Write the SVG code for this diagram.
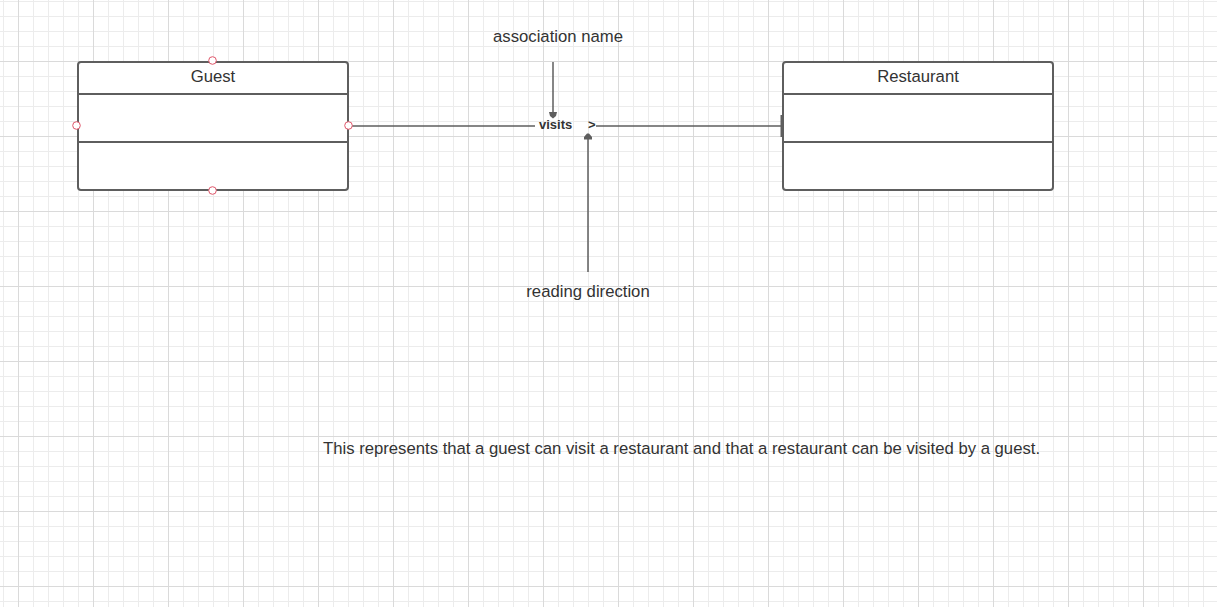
<svg xmlns="http://www.w3.org/2000/svg" width="1217" height="607" viewBox="0 0 1217 607">
  <style>
    .box { fill: #ffffff; stroke: #5e5e5e; stroke-width: 2; }
    .div { stroke: #5e5e5e; stroke-width: 2; fill: none; }
    .conn { stroke: #5e5e5e; stroke-width: 1.5; fill: none; }
    .head { fill: #5e5e5e; stroke: none; }
    .pt { fill: #ffffff; stroke: #e0566a; stroke-width: 1; }
    .t { font-family: "Liberation Sans", Arial, sans-serif; fill: #333333; font-size: 16.7px; }
    .lbl { font-family: "Liberation Sans", Arial, sans-serif; fill: #333333; font-size: 13px; font-weight: bold; }
  </style>
  <defs>
    <pattern id="minor" patternUnits="userSpaceOnUse" x="3" y="1" width="15" height="15">
      <path d="M0.5 0V15M0 0.5H15" stroke="#ececec" stroke-width="1" fill="none"/>
    </pattern>
    <pattern id="major" patternUnits="userSpaceOnUse" x="18" y="61" width="75" height="75">
      <path d="M0.5 0V75M0 0.5H75" stroke="#dadada" stroke-width="1" fill="none"/>
    </pattern>
  </defs>
  <rect width="1217" height="607" fill="#ffffff"/>
  <rect width="1217" height="607" fill="url(#minor)"/>
  <rect width="1217" height="607" fill="url(#major)"/>

  <g id="connectors">
    <line class="conn" x1="352" y1="126" x2="535" y2="126"/>
    <line class="conn" x1="596" y1="126" x2="781" y2="126"/>
    <rect class="head" x="780.5" y="115" width="2" height="22"/>
    <text class="lbl" x="539" y="129">visits</text>
    <text class="lbl" x="588" y="129">&gt;</text>
    <line class="conn" x1="553" y1="62" x2="553" y2="113"/>
    <polygon class="head" points="549,112 557,112 556,116 553,118.5 550,116"/>
    <line class="conn" x1="588" y1="272" x2="588" y2="138"/>
    <polygon class="head" points="587,133.5 589,133.5 592,137 592,139.5 584,139.5 584,137"/>
  </g>

  <g id="guest">
    <rect class="box" x="78" y="62" width="270" height="128" rx="3"/>
    <line class="div" x1="78" y1="94" x2="348" y2="94"/>
    <line class="div" x1="78" y1="142" x2="348" y2="142"/>
    <text class="t" x="213" y="82" text-anchor="middle">Guest</text>
    <circle class="pt" cx="212.5" cy="60.5" r="3.8"/>
    <circle class="pt" cx="76.5" cy="125.5" r="3.8"/>
    <circle class="pt" cx="348.5" cy="125.5" r="3.8"/>
    <circle class="pt" cx="212.5" cy="190.5" r="3.8"/>
  </g>

  <g id="restaurant">
    <rect class="box" x="783" y="62" width="270" height="128" rx="3"/>
    <line class="div" x1="783" y1="94" x2="1053" y2="94"/>
    <line class="div" x1="783" y1="142" x2="1053" y2="142"/>
    <text class="t" x="918" y="82" text-anchor="middle">Restaurant</text>
  </g>

  <g id="association-name">
    <text class="t" x="558" y="42" text-anchor="middle">association name</text>
  </g>

  <g id="reading-direction">
    <text class="t" x="588" y="297" text-anchor="middle">reading direction</text>
  </g>

  <g id="note">
    <text class="t" x="323" y="454">This represents that a guest can visit a restaurant and that a restaurant can be visited by a guest.</text>
  </g>
</svg>
